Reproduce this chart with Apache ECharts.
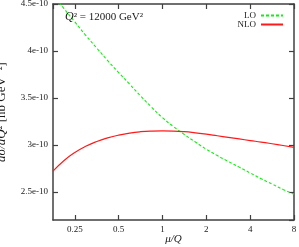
<!DOCTYPE html>
<html>
<head>
<meta charset="utf-8">
<script src="https://cdn.jsdelivr.net/npm/echarts@6/dist/echarts.min.js"></script>
<style>html,body{margin:0;padding:0;background:#fff;}#c{width:299px;height:247px;}</style>
</head>
<body>
<div id="c"></div>
<script>
// mu/Q values (log axis, base 2)
const muValues = [0.177, 0.21, 0.25, 0.297, 0.354, 0.42, 0.5, 0.595, 0.707, 0.841, 1, 1.189, 1.414, 1.682, 2, 2.378, 2.828, 3.364, 4, 4.757, 5.657, 6.727, 8];
// dsigma/dQ^2 in units of 1e-10 nb GeV^-2
const loValues  = [4.602, 4.454, 4.309, 4.167, 4.030, 3.898, 3.770, 3.646, 3.521, 3.402, 3.290, 3.195, 3.110, 3.030, 2.953, 2.886, 2.824, 2.763, 2.701, 2.640, 2.582, 2.526, 2.474];
const nloValues = [2.720, 2.831, 2.919, 2.985, 3.036, 3.074, 3.104, 3.126, 3.140, 3.147, 3.149, 3.147, 3.140, 3.128, 3.114, 3.097, 3.080, 3.063, 3.046, 3.030, 3.012, 2.993, 2.973];
const xTickLabels = ['0.25', '0.5', '1', '2', '4', '8'];
const yTickLabels = ['2.5e-10', '3e-10', '3.5e-10', '4e-10', '4.5e-10'];
const seriesNames = ['LO', 'NLO'];

const serif = '"Liberation Serif", "DejaVu Serif", serif';
const axisColor = '#404040';
const textColor = '#1a1a1a';

function xLabel(v) {
  for (const t of xTickLabels) { if (Math.abs(Math.log2(v) - Math.log2(parseFloat(t))) < 1e-6) return t; }
  return '';
}
function yLabel(v) {
  for (const t of yTickLabels) { if (Math.abs(parseFloat(t) * 1e10 - v) < 1e-6) return t; }
  return '';
}

const baseX = {
  type: 'log', logBase: 2, min: 0.177, max: 8,
  axisLine: { lineStyle: { color: axisColor, width: 1.5 } },
  axisTick: { inside: true, length: 5, lineStyle: { color: axisColor, width: 1.2 } },
  splitLine: { show: false }, minorTick: { show: false }
};
const baseY = {
  type: 'value', min: 2.2, max: 4.5, minInterval: 0.5, maxInterval: 0.5,
  axisLine: { show: true, lineStyle: { color: axisColor, width: 1.5 } },
  axisTick: { show: true, inside: true, length: 5, lineStyle: { color: axisColor, width: 1.2 } },
  splitLine: { show: false }
};

const chart = echarts.init(document.getElementById('c'), null, { renderer: 'canvas' });
chart.setOption({
  animation: false,
  backgroundColor: '#fff',
  grid: { left: 53, right: 5, top: 4, bottom: 27, containLabel: false, outerBoundsMode: 'none' },
  title: {
    text: '{i|Q}² = 12000 GeV²',
    left: 60, top: 6,
    textStyle: { fontFamily: serif, fontSize: 11, fontWeight: 'normal', color: textColor,
      rich: { i: { fontFamily: serif, fontSize: 12, fontStyle: 'italic', color: textColor } } }
  },
  legend: {
    orient: 'vertical', align: 'right', right: 15, top: 11, padding: 0,
    itemWidth: 22, itemHeight: 7.5, itemGap: 0,
    itemStyle: { opacity: 0 },
    textStyle: { fontFamily: serif, fontSize: 9, lineHeight: 7.5, color: textColor },
    data: seriesNames
  },
  xAxis: [
    Object.assign({}, baseX, {
      position: 'bottom',
      name: '{i|μ/Q}', nameLocation: 'middle', nameGap: 14, nameMoveOverlap: false,
      nameTextStyle: { fontFamily: serif, fontSize: 11, color: textColor,
        rich: { i: { fontFamily: serif, fontSize: 11, fontStyle: 'italic', color: textColor } } },
      axisLabel: { showMinLabel: false, margin: 5, fontFamily: serif, fontSize: 9, color: textColor, formatter: xLabel }
    }),
    Object.assign({}, baseX, { position: 'top', axisLabel: { show: false } })
  ],
  yAxis: [
    Object.assign({}, baseY, {
      position: 'left',
      name: '{i|dσ/dQ²} [nb GeV⁻²]', nameLocation: 'middle', nameGap: 45, nameRotate: 90, nameMoveOverlap: false,
      nameTextStyle: { fontFamily: serif, fontSize: 13, color: textColor,
        rich: { i: { fontFamily: serif, fontSize: 13, fontStyle: 'italic', color: textColor } } },
      axisLabel: { showMinLabel: false, margin: 5, fontFamily: serif, fontSize: 9, color: textColor, formatter: yLabel }
    }),
    Object.assign({}, baseY, { position: 'right', axisLabel: { show: false } })
  ],
  series: [
    {
      name: seriesNames[0], type: 'line', xAxisIndex: 0, yAxisIndex: 0,
      data: muValues.map((m, i) => [m, loValues[i]]),
      smooth: 0.5, symbol: 'none', clip: true,
      lineStyle: { color: '#11ee11', width: 1.1, type: [3, 2] },
      itemStyle: { color: '#11ee11' }
    },
    {
      name: seriesNames[1], type: 'line', xAxisIndex: 0, yAxisIndex: 0,
      data: muValues.map((m, i) => [m, nloValues[i]]),
      smooth: 0.5, symbol: 'none', clip: true,
      lineStyle: { color: '#ff1a1a', width: 1.2 },
      itemStyle: { color: '#ff1a1a' }
    }
  ]
});
</script>
</body>
</html>
